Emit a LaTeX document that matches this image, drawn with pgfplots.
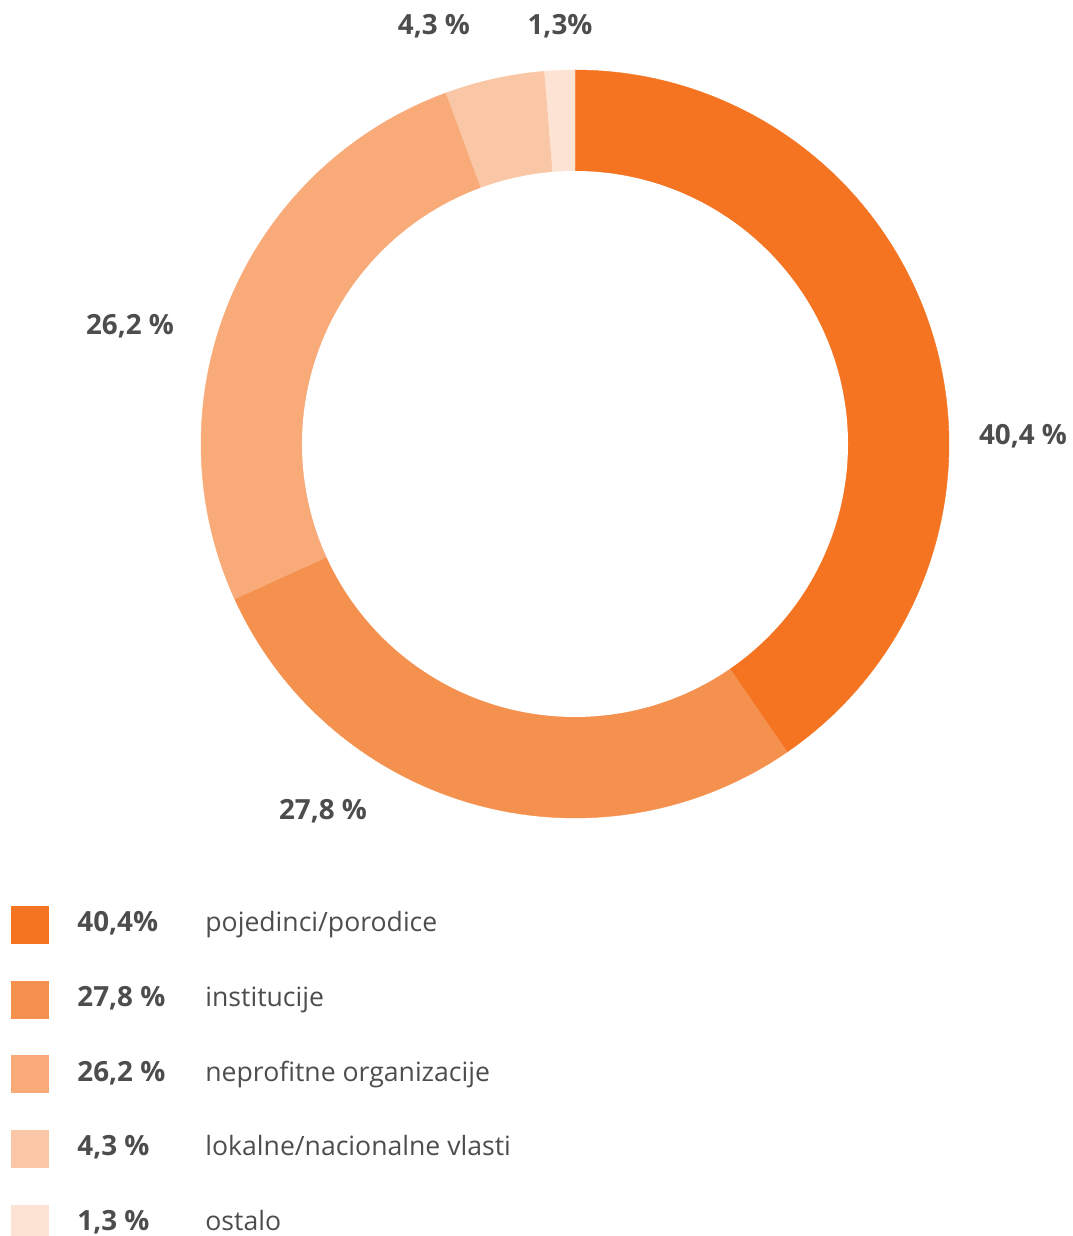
\documentclass[border=0pt]{standalone}
\usepackage{pgfplots}
\pgfplotsset{compat=1.18}
\usepackage{fontspec}
\setmainfont{Open Sans}
\definecolor{c1}{HTML}{F47421}
\definecolor{c2}{HTML}{F5914E}
\definecolor{c3}{HTML}{F8AA79}
\definecolor{c4}{HTML}{FAC7A6}
\definecolor{c5}{HTML}{FDE3D3}
\definecolor{txt}{HTML}{4D4D4F}
% segment: start cumulative %, end cumulative %, colour
\newcommand{\seg}[3]{%
\addplot[fill=#3, draw=#3, line width=0.2pt, domain=0:1, samples=120, variable=\t]
 ({575+374*cos(90-3.6*(#1+(#2-#1)*\t))},{792+374*sin(90-3.6*(#1+(#2-#1)*\t))}) -- (575,792) -- cycle;}
\newcommand{\lsq}[2]{% top pixel row, colour
\addplot[fill=#2, draw=none] coordinates {(11,{1236-#1}) (49,{1236-#1}) (49,{1236-#1-38}) (11,{1236-#1-38})} -- cycle;}
\tikzset{lab/.style={font=\fontsize{13.9pt}{16pt}\selectfont\bfseries, text=txt, inner sep=0pt},
         leg/.style={font=\fontsize{13.3pt}{16pt}\selectfont, text=txt, inner sep=0pt}}
\begin{document}
\begin{tikzpicture}
\begin{axis}[width=536pt, height=618pt, scale only axis,
  xmin=0, xmax=1072, ymin=0, ymax=1236, hide axis, clip=false]
% shares: 40.4, 27.8, 26.2, 4.3, 1.3
\seg{0}{40.4}{c1}
\seg{40.4}{68.2}{c2}
\seg{68.2}{94.4}{c3}
\seg{94.4}{98.7}{c4}
\seg{98.7}{100}{c5}
\addplot[fill=white, draw=none, domain=0:360, samples=240] ({575+273*cos(x)},{792+273*sin(x)}) -- cycle;
% labels
\node[lab, anchor=base] at (1023,{1236-445}) {40,4 \%};
\node[lab, anchor=base] at (323,{1236-820}) {27,8 \%};
\node[lab, anchor=base] at (130,{1236-335}) {26,2 \%};
\node[lab, anchor=base] at (434,{1236-35}) {4,3 \%};
\node[lab, anchor=base] at (560,{1236-35}) {1,3\%};
% legend
\lsq{906}{c1}
\lsq{981}{c2}
\lsq{1055}{c3}
\lsq{1130}{c4}
\addplot[fill=c5, draw=none] coordinates {(11,31) (49,31) (49,0) (11,0)} -- cycle;
\node[lab, anchor=base west] at (77,{1236-932}) {40,4\%};
\node[lab, anchor=base west] at (77,{1236-1007}) {27,8 \%};
\node[lab, anchor=base west] at (77,{1236-1082}) {26,2 \%};
\node[lab, anchor=base west] at (77,{1236-1156}) {4,3 \%};
\node[lab, anchor=base west] at (77,{1236-1231}) {1,3 \%};
\node[leg, anchor=base west] at (205,{1236-932}) {pojedinci/porodice};
\node[leg, anchor=base west] at (205,{1236-1007}) {institucije};
\node[leg, anchor=base west] at (205,{1236-1082}) {neprofitne organizacije};
\node[leg, anchor=base west] at (205,{1236-1156}) {lokalne/nacionalne vlasti};
\node[leg, anchor=base west] at (205,{1236-1231}) {ostalo};
\end{axis}
\pgfresetboundingbox
\path[use as bounding box] (current axis.south west) rectangle (current axis.north east);
\end{tikzpicture}
\end{document}
